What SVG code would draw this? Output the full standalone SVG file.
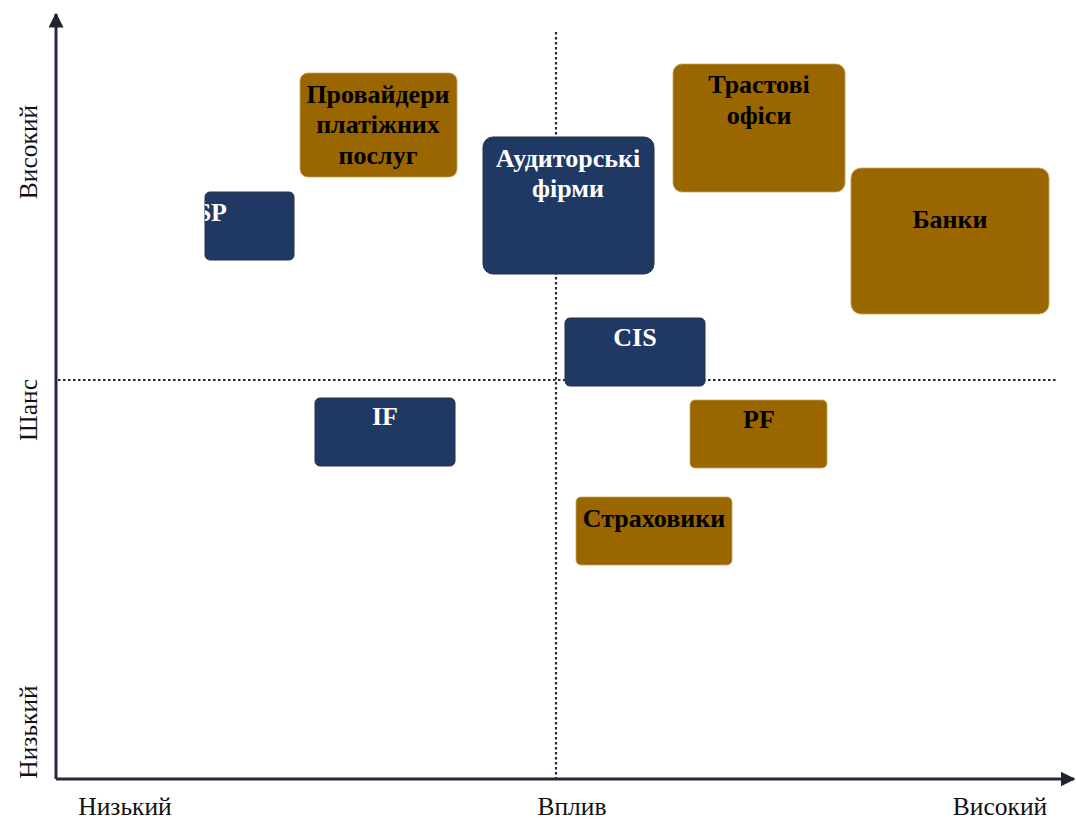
<svg xmlns="http://www.w3.org/2000/svg" width="1076" height="821" viewBox="0 0 1076 821">
<style>
.navy{fill:#1F3864;stroke:#2b3140;stroke-width:1}
.gold{fill:#996600;stroke:#c9a35a;stroke-width:0.8}
.tw{font-family:"Liberation Serif","Times New Roman",serif;font-weight:bold;font-size:26px;fill:#fff;text-anchor:middle}
.tb{font-family:"Liberation Serif","Times New Roman",serif;font-weight:bold;font-size:26px;fill:#000;text-anchor:middle}
.ax{font-family:"Liberation Serif","Times New Roman",serif;font-size:25.5px;fill:#111;text-anchor:middle}
.axis{stroke:#252b36;stroke-width:3;fill:none}
.dot{stroke:#252b36;stroke-width:2.2;stroke-dasharray:2.5 2.5;fill:none}
</style>
<defs>
<marker id="ah" viewBox="0 0 10 10" refX="9" refY="5" markerWidth="5" markerHeight="5" orient="auto" markerUnits="strokeWidth">
<path d="M0,0 L10,5 L0,10 z" fill="#1f2530"/>
</marker>
<clipPath id="spclip"><rect x="205" y="192" width="89" height="68" rx="5"/></clipPath>
</defs>
<g id="connectors">
<line class="dot" x1="556" y1="32" x2="556" y2="779"/>
<line class="dot" x1="58" y1="380" x2="1058" y2="380"/>
<line class="axis" x1="56" y1="779" x2="56" y2="14" marker-end="url(#ah)"/>
<line class="axis" x1="56" y1="779" x2="1074" y2="779" marker-end="url(#ah)"/>
</g>
<g id="node-sp">
<rect class="navy" x="205" y="192" width="89" height="68" rx="5"/>
<text class="tw" x="227" y="221" style="text-anchor:end" clip-path="url(#spclip)">SP</text>
</g>
<g id="node-providers">
<rect class="gold" x="300" y="73" width="157" height="104" rx="8"/>
<text class="tb" x="378" y="103">Провайдери</text>
<text class="tb" x="378" y="133">платіжних</text>
<text class="tb" x="378" y="164">послуг</text>
</g>
<g id="node-audit">
<rect class="navy" x="483" y="137" width="171" height="137" rx="10"/>
<text class="tw" x="568" y="167">Аудиторські</text>
<text class="tw" x="568" y="197">фірми</text>
</g>
<g id="node-trust">
<rect class="gold" x="673" y="64" width="172" height="128" rx="9"/>
<text class="tb" x="759" y="93">Трастові</text>
<text class="tb" x="759" y="124">офіси</text>
</g>
<g id="node-banks">
<rect class="gold" x="851" y="168" width="198" height="146" rx="10"/>
<text class="tb" x="950" y="228">Банки</text>
</g>
<g id="node-cis">
<rect class="navy" x="565" y="318" width="140" height="68" rx="5"/>
<text class="tw" x="635" y="346">CIS</text>
</g>
<g id="node-if">
<rect class="navy" x="315" y="398" width="140" height="68" rx="5"/>
<text class="tw" x="385" y="425">IF</text>
</g>
<g id="node-pf">
<rect class="gold" x="690" y="400" width="137" height="68" rx="5"/>
<text class="tb" x="759" y="428">PF</text>
</g>
<g id="node-insurers">
<rect class="gold" x="576" y="497" width="156" height="68" rx="5"/>
<text class="tb" x="654" y="527">Страховики</text>
</g>
<g id="axis-labels">
<text class="ax" x="125" y="815">Низький</text>
<text class="ax" x="572" y="815">Вплив</text>
<text class="ax" x="1000" y="815">Високий</text>
<text class="ax" transform="translate(37,152) rotate(-90)">Високий</text>
<text class="ax" transform="translate(37,410) rotate(-90)">Шанс</text>
<text class="ax" transform="translate(37,732) rotate(-90)">Низький</text>
</g>
</svg>
